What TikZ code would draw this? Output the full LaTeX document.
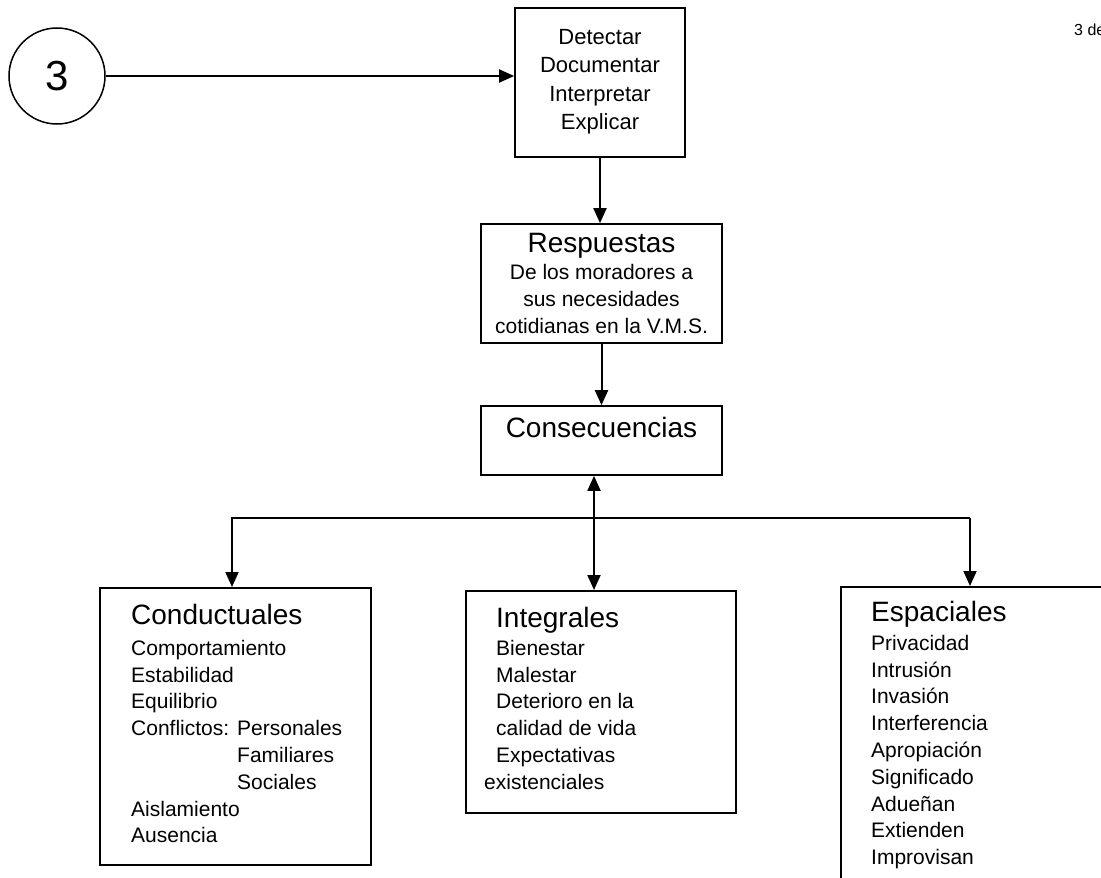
\documentclass[tikz,border=0pt]{standalone}
\usepackage{fontspec}
\setmainfont{Liberation Sans}
\usetikzlibrary{arrows.meta}

\begin{document}
\begin{tikzpicture}[x=1pt,y=-1pt]
    \tikzset{box/.style = {draw, rectangle, line width=1.7pt, inner sep=0pt}}
    \tikzset{edge/.style = {->, > = {Triangle[length=15pt,width=13pt]}, line width=2pt}}
    \tikzset{body/.style = {font=\fontsize{21}{26.8}\selectfont}}
    \tikzset{head/.style = {font=\fontsize{28}{33}\selectfont}}
    \tikzset{list/.style = {body, anchor=north west, align=left, inner sep=0pt}}
    \useasboundingbox (0,0) rectangle (1101,878);
    \clip (0,0) rectangle (1101,878);
    % vertices
    \node[draw, circle, line width=1.5pt, minimum size=96pt, inner sep=0pt,
          font=\fontsize{42}{42}\selectfont] (C3) at (57,76) {3};
    \node[anchor=west, inner sep=0pt, font=\fontsize{16}{16}\selectfont] (Pag) at (1074,30) {3 de};
    \node[box, minimum width=170pt, minimum height=149pt, align=center,
          font=\fontsize{22}{28.3}\selectfont] (Det) at (600,82.5)
          {Detectar\\Documentar\\Interpretar\\Explicar\\[-22.3pt]};
    \node[box, minimum width=241pt, minimum height=119pt, align=center, body] (Resp) at (601.5,283.5)
          {{\fontsize{28}{30}\selectfont Respuestas}\\De los moradores a\\sus necesidades\\cotidianas en la V.M.S.};
    \node[box, head, minimum width=241pt, inner ysep=2pt, text height=29pt, text depth=36pt]
          (Cons) at (601.5,440.5) {Consecuencias};
    % consecuencias
    \node[box, anchor=north west, minimum width=271pt, minimum height=277pt] (Cond) at (99,587) {};
    \node[list] (CondTxt) at (131,604.5)
          {{\fontsize{28}{33}\selectfont Conductuales}\\[3.5pt]
           Comportamiento\\Estabilidad\\Equilibrio\\
           \makebox[106pt][l]{Conflictos:}Personales\\
           \hspace*{106pt}Familiares\\
           \hspace*{106pt}Sociales\\
           Aislamiento\\Ausencia};
    \node[box, anchor=north west, minimum width=270pt, minimum height=222pt] (Integ) at (465,590) {};
    \node[list] (IntegTxt) at (484,607.5)
          {\hspace*{12pt}{\fontsize{28}{33}\selectfont Integrales}\\[0.5pt]
           \hspace*{12pt}Bienestar\\\hspace*{12pt}Malestar\\
           \hspace*{12pt}Deterioro en la\\\hspace*{12pt}calidad de vida\\
           \hspace*{12pt}Expectativas\\existenciales};
    \node[box, anchor=north west, minimum width=280pt, minimum height=320pt] (Esp) at (840,586) {};
    \node[list] (EspTxt) at (871,601.5)
          {{\fontsize{28}{33}\selectfont Espaciales}\\[1.5pt]
           Privacidad\\Intrusión\\Invasión\\Interferencia\\Apropiación\\
           Significado\\Adueñan\\Extienden\\Improvisan};
    \coordinate (Lft) at (232,518);
    \coordinate (Rgt) at (970,518);
    \coordinate (Mid) at (594,0);
    % edges
    \draw[edge] (C3.east) -- (C3.east -| Det.west);
    \draw[edge] (Det.south) -- (Det.south |- Resp.north);
    \draw[edge] (Resp.south) -- (Resp.south |- Cons.north);
    \draw[edge, <->] (Mid |- Cons.south) -- (Mid |- Integ.north);
    \draw[edge] (Rgt) -- (Lft) -- (Lft |- Cond.north);
    \draw[edge] (Rgt) -- (Rgt |- Esp.north);
\end{tikzpicture}
\end{document}
